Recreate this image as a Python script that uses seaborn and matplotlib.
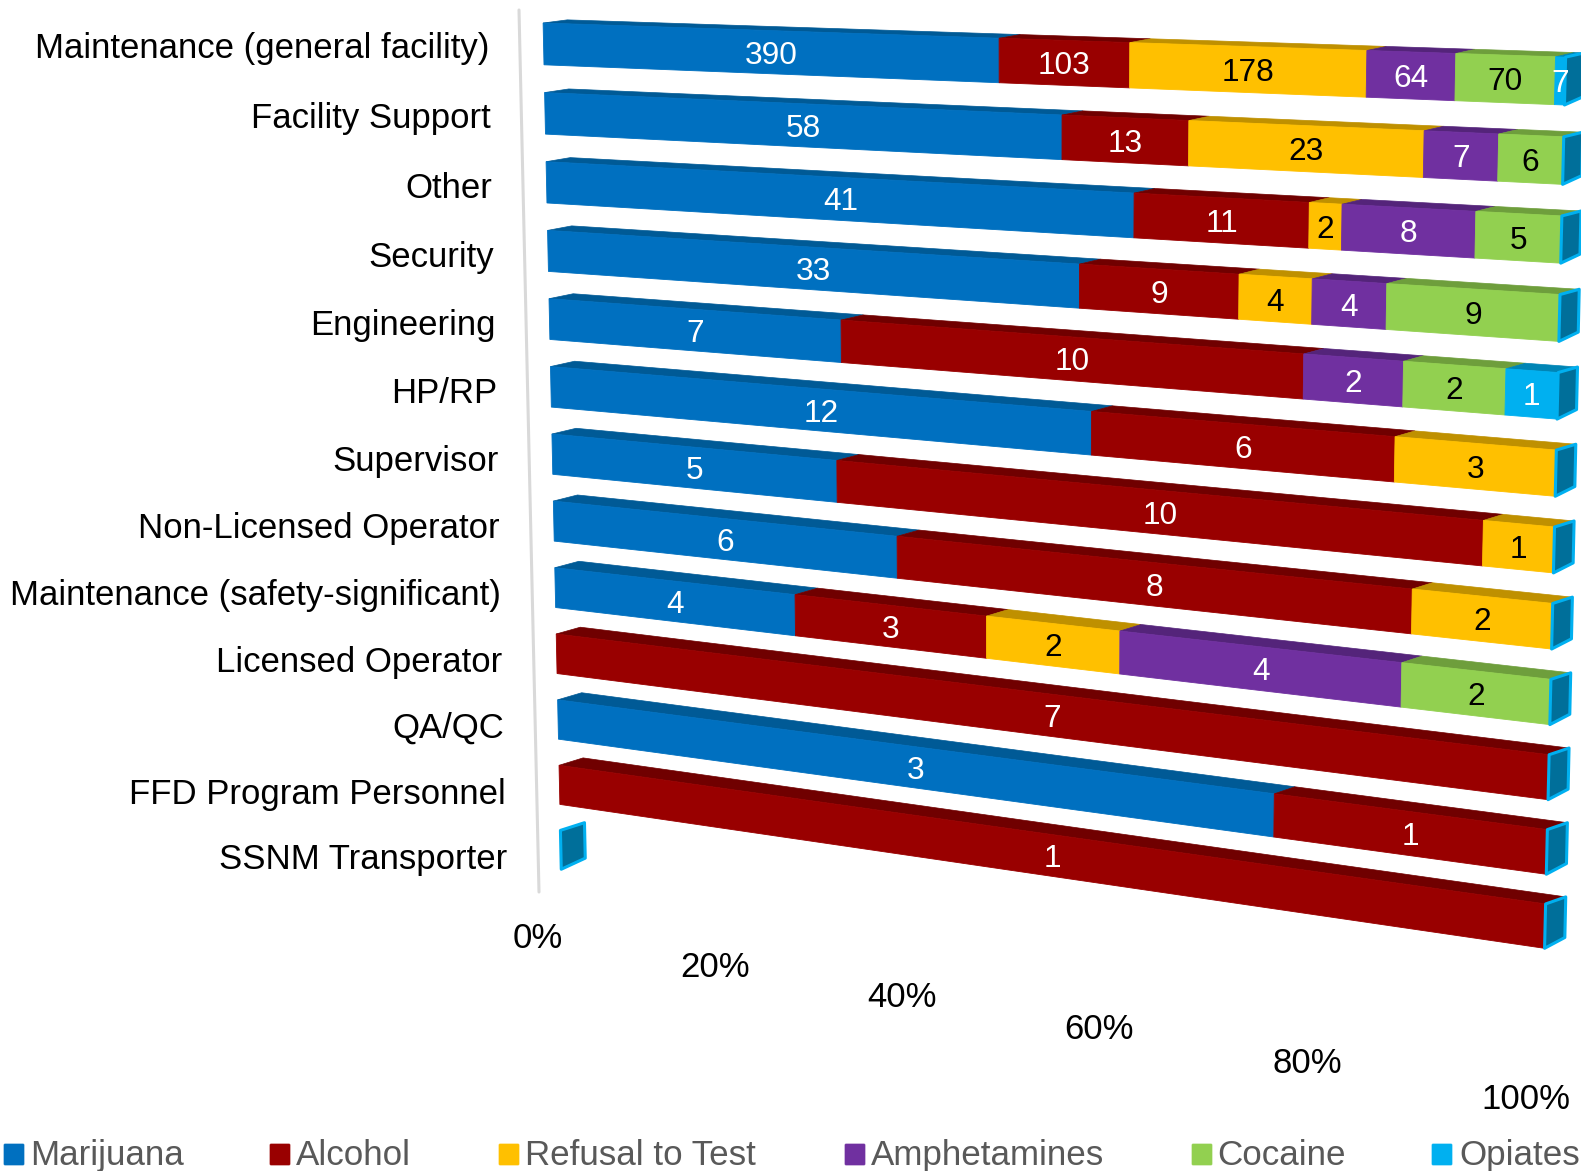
import numpy as np
import matplotlib
matplotlib.use("Agg")
import matplotlib.pyplot as plt
from matplotlib.patches import Polygon, FancyBboxPatch
from matplotlib.transforms import Transform
import seaborn as sns

rows = ["Maintenance (general facility)", "Facility Support", "Other", "Security",
        "Engineering", "HP/RP", "Supervisor", "Non-Licensed Operator",
        "Maintenance (safety-significant)", "Licensed Operator", "QA/QC",
        "FFD Program Personnel", "SSNM Transporter"]
marijuana    = [390, 58, 41, 33, 7, 12, 5, 6, 4, 0, 3, 0, 0]
alcohol      = [103, 13, 11, 9, 10, 6, 10, 8, 3, 7, 1, 1, 0]
refusal      = [178, 23, 2, 4, 0, 3, 1, 2, 2, 0, 0, 0, 0]
amphetamines = [64, 7, 8, 4, 2, 0, 0, 0, 4, 0, 0, 0, 0]
cocaine      = [70, 6, 5, 9, 2, 0, 0, 0, 2, 0, 0, 0, 0]
opiates      = [7, 0, 0, 0, 1, 0, 0, 0, 0, 0, 0, 0, 0]
series_names = ["Marijuana", "Alcohol", "Refusal to Test", "Amphetamines", "Cocaine", "Opiates"]
series_vals = [marijuana, alcohol, refusal, amphetamines, cocaine, opiates]
colors = ["#0070C0", "#990000", "#FFC000", "#7030A0", "#92D050", "#00B0F0"]
top_colors = ["#005A96", "#700000", "#BF9000", "#54247A", "#6E9E3C", "#0085B5"]
label_colors = ["white", "white", "black", "white", "black", "white"]
tick_pcts = [0, 20, 40, 60, 80, 100]

W, HT = 1581, 1171
BAR_H = 0.6
BACK_H = 0.55


def fit_h(src, dst):
    A, b = [], []
    for (p, r), (x, y) in zip(src, dst):
        A.append([p, r, 1, 0, 0, 0, -p * x, -r * x]); b.append(x)
        A.append([0, 0, 0, p, r, 1, -p * y, -r * y]); b.append(y)
    s = np.linalg.lstsq(np.array(A, float), np.array(b, float), rcond=None)[0]
    return np.append(s, 1).reshape(3, 3)


class Proj(Transform):
    input_dims = 2
    output_dims = 2
    is_separable = False
    has_inverse = False

    def __init__(self, m):
        super().__init__()
        self.m = m

    def transform_non_affine(self, v):
        v = np.asarray(v, float)
        q = np.c_[v, np.ones(len(v))] @ self.m.T
        return q[:, :2] / q[:, 2:3]


# the chart's 3D view: (percent, row edge) -> image pixel
t = BAR_H / 2
front = Proj(fit_h(
    [(0, 0 - t), (100, 0 - t), (48.03, 0 - t), (0, 5 - t), (100, 5 - t), (0, 6 - t), (100, 6 - t),
     (0, 10 - t), (100, 10 - t), (75, 10 - t), (0, 11 - t), (100, 11 - t)],
    [(543, 23), (1567, 58), (998, 38.5), (551, 365), (1556, 450), (552, 434), (1554, 527),
     (558, 701), (1548, 829), (1273, 792), (559, 766), (1546, 905)]))
back_pts = [(0, -t), (100, -t), (0, 5 - t), (100, 5 - t), (0, 11 - t), (100, 11 - t)]
back = Proj(fit_h(back_pts, [(567, 20), (1585, 53), (575, 361), (1575, 444), (583, 758), (1566, 897)]))

sns.set_theme(style="white")
plt.rcParams["font.family"] = ["Liberation Sans", "DejaVu Sans"]
fig = plt.figure(figsize=(W / 100, HT / 100), dpi=100)
ax = fig.add_axes([0, 0, 1, 1])

totals = np.sum(series_vals, axis=0).astype(float)
safe = np.where(totals > 0, totals, 1)
pct = [np.array(v) / safe * 100 for v in series_vals]
lefts = np.cumsum([np.zeros(len(rows))] + pct[:-1], axis=0)

for k, (name, c) in enumerate(zip(series_names, colors)):
    n0 = len(ax.patches)
    sns.barplot(x=pct[k], y=rows, order=rows, orient="y", left=lefts[k], color=c, saturation=1,
                width=BAR_H, errorbar=None, edgecolor=c, linewidth=0.6, ax=ax)
    for patch in ax.patches[n0:]:
        i = int(round(patch.get_y() + patch.get_height() / 2))
        patch.set_zorder(10 + i + 0.5)
        patch.set_visible(patch.get_width() > 0)
        patch.set_transform(front + ax.transData)
        if patch.get_width() <= 0:
            continue
        p0, p1 = patch.get_x(), patch.get_x() + patch.get_width()
        ytop = i - t
        a = front.transform(np.array([(p0, ytop), (p1, ytop)]))
        d = back.transform(np.array([(p0, ytop), (p1, ytop)]))
        ax.add_patch(Polygon([a[0], a[1], d[1], d[0]], closed=True, fc=top_colors[k], ec=top_colors[k],
                             lw=0.5, zorder=10 + i + 0.2))
        cs = front.transform(np.array([(p0, i - t), (p1, i - t), (p1, i + t), (p0, i + t)]))
        cx, cy = cs.mean(axis=0)
        ax.text(cx, cy, str(series_vals[k][i]), color=label_colors[k], fontsize=22.8, ha="center",
                va="center_baseline", zorder=40)

# end caps (the zero-depth Opiates faces)
for i in range(len(rows)):
    pe = 100 if totals[i] > 0 else 0
    f = front.transform(np.array([(pe, i - t), (pe, i + t)]))
    g = back.transform(np.array([(pe, i - t), (pe, i - t + BACK_H)]))
    ax.add_patch(Polygon([f[0], g[0], g[1], f[1]], closed=True, fc="#006F9A", ec="#00B0F0", lw=2.2,
                         joinstyle="round", zorder=10 + i + 0.7))

ax.set_xlim(0, W)
ax.set_ylim(HT, 0)
ax.set_axis_off()

# back wall line
ax.plot([519, 539], [10, 892], color="#D9D9D9", lw=2.2, zorder=1)

# row labels
for i, lab in enumerate(rows):
    x, y = front.transform(np.array([(0, float(i))]))[0]
    ax.text(x - 54, y + 5 + 0.4 * i, lab, ha="right", va="center", fontsize=25, color="black")

# percent tick labels
for pc in tick_pcts:
    x, y = front.transform(np.array([(float(pc), 13.2)]))[0]
    ax.text(x - 25 + 0.1 * pc, y + 11.5, f"{pc}%", ha="center", va="center", fontsize=25, color="black")

# legend
sq_x = [4, 270, 499, 845, 1192, 1432]
txt_x = [30, 296, 525, 871, 1217, 1459]
for sx, tx, c, name in zip(sq_x, txt_x, colors, series_names):
    ax.add_patch(FancyBboxPatch((sx + 1, 1145), 18, 19, boxstyle="round,pad=1", fc=c, ec=c, lw=0.5, zorder=5))
    ax.text(tx, 1165, name, ha="left", va="baseline", fontsize=25.2, color="#595959")

fig.savefig("out.png", dpi=100)
